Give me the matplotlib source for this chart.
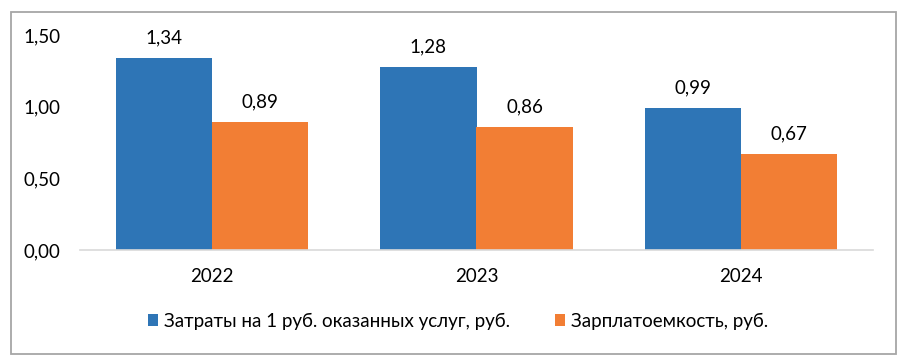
import numpy as np
import matplotlib.pyplot as plt
from matplotlib.patches import Rectangle

years = ['2022', '2023', '2024']
costs = [1.34, 1.28, 0.99]
payroll = [0.89, 0.86, 0.67]
yticks = [0.0, 0.5, 1.0, 1.5]
costs_label = 'Затраты на 1 руб. оказанных услуг, руб.'
payroll_label = 'Зарплатоемкость, руб.'

plt.rcParams['font.family'] = ['Lato', 'DejaVu Sans']

W, H = 906, 361
fig = plt.figure(figsize=(W / 100, H / 100), dpi=100)

# outer frame
fig.patches.append(Rectangle((11 / W, 1 - 354 / H), 885 / W, 342 / H,
                             transform=fig.transFigure, fill=False,
                             edgecolor='#A6A6A6', linewidth=1.3))

ax = fig.add_axes([80 / W, 1 - 250 / H, 793 / W, 215 / H])
x = np.arange(len(years))
w = 0.364
b1 = ax.bar(x - w / 2, costs, w, color='#2E75B6', label=costs_label)
b2 = ax.bar(x + w / 2, payroll, w, color='#F27E34', label=payroll_label)

for bars, vals in ((b1, costs), (b2, payroll)):
    for r, v in zip(bars, vals):
        ax.text(r.get_x() + r.get_width() / 2, v + 0.14, f'{v:.2f}'.replace('.', ','),
                ha='center', va='center', fontsize=13.5, color='#000000')

ax.set_xlim(-0.5, len(years) - 0.5)
ax.set_ylim(0, 1.5)
ax.set_yticks(yticks)
ax.set_yticklabels([f'{t:.2f}'.replace('.', ',') for t in yticks], fontsize=13.5)
ax.set_xticks(x)
ax.set_xticklabels(years, fontsize=13.5)
ax.tick_params(length=0)
ax.tick_params(axis='y', pad=14)
ax.tick_params(axis='x', pad=13)
for s in ['top', 'right', 'left']:
    ax.spines[s].set_visible(False)
ax.spines['bottom'].set_color('#D9D9D9')
ax.spines['bottom'].set_linewidth(1.2)

fig.legend(handles=[b1, b2], loc='center', bbox_to_anchor=(458 / W, 1 - 321 / H),
           ncol=2, frameon=False, fontsize=13.5, handlelength=0.55, handleheight=0.55,
           handletextpad=0.3, columnspacing=2.4)

fig.savefig('out.png', dpi=100, facecolor='white')
